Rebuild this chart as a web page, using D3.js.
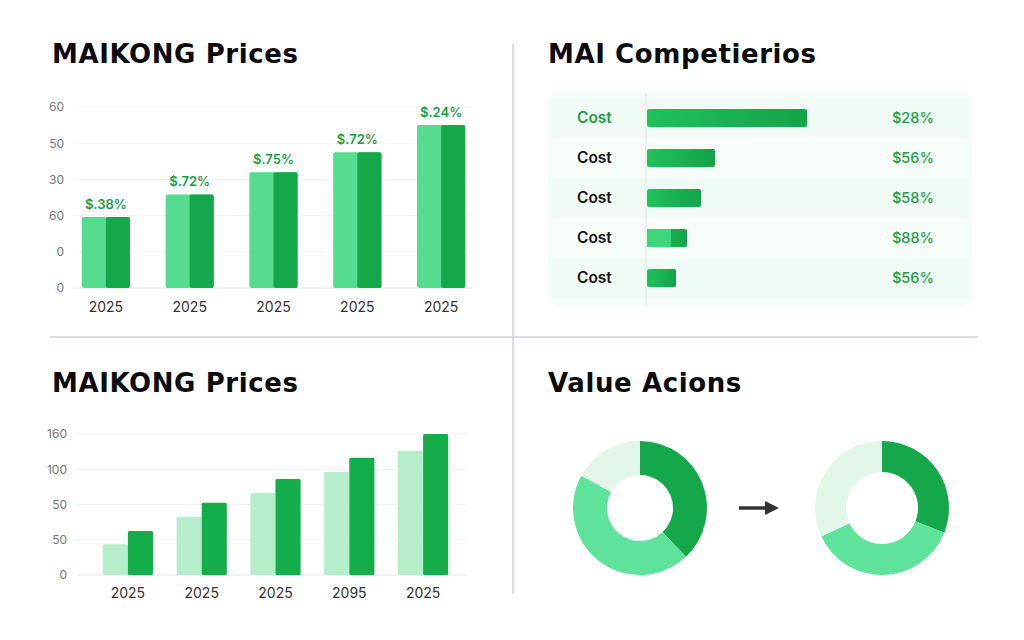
<!DOCTYPE html>
<html>
<head>
<meta charset="utf-8">
<script src="https://cdn.jsdelivr.net/npm/d3@7"></script>
<style>
  body { margin: 0; background: #fff; }
  svg { display: block; font-family: "Inter", "Open Sans", sans-serif; }
</style>
</head>
<body>
<svg id="chart" width="1024" height="640"></svg>
<script>
// ---- data ----
const topYears = ["2025", "2025", "2025", "2025", "2025"];
const topValues = [23.5, 31, 38.4, 45, 54];
const topLabels = ["$.38%", "$.72%", "$.75%", "$.72%", "$.24%"];
const topTickValues = [0, 12, 24, 36, 48, 60];
const topTickLabels = ["0", "0", "60", "30", "50", "60"];

const compNames = ["Cost", "Cost", "Cost", "Cost", "Cost"];
const compValues = [80, 34, 27, 20, 14.5];
const compLabels = ["$28%", "$56%", "$58%", "$88%", "$56%"];

const botYears = ["2025", "2025", "2025", "2095", "2025"];
const botLight = [35, 66, 93, 117, 141];
const botDark = [50, 82, 109, 133, 160];
const botTickValues = [0, 40, 80, 120, 160];
const botTickLabels = ["0", "50", "50", "100", "160"];

const donutBefore = [38, 45, 17];
const donutAfter = [31, 37, 32];
const donutColors = ["#14a84a", "#5fe39b", "#e2f6ea"];

const svg = d3.select("#chart");
const GREEN_DARK = "#15a84b";
const GREEN_LIGHT = "#55dc8e";
const TEXT_GREEN = "#1a9e48";

// ---- dividers ----
svg.append("line").attr("x1", 513).attr("x2", 513).attr("y1", 44).attr("y2", 594)
  .attr("stroke", "#cfd3d6").attr("stroke-width", 1.5);
svg.append("line").attr("x1", 50).attr("x2", 978).attr("y1", 337).attr("y2", 337)
  .attr("stroke", "#cfd3d6").attr("stroke-width", 1.5);

// ---- titles ----
function title(x, y, txt) {
  svg.append("text").attr("x", x).attr("y", y).text(txt)
    .attr("font-family", "'DejaVu Sans', sans-serif")
    .attr("font-size", 26).attr("font-weight", 700).attr("fill", "#0b0b0b")
    .attr("letter-spacing", 0.6);
}
title(52, 63, "MAIKONG Prices");
title(548, 63, "MAI Competierios");
title(52, 392, "MAIKONG Prices");
title(548, 392, "Value Acions");

// ==================================
// PANEL 1: two-tone bars
// ==================================
const x1 = d3.scaleBand().domain(d3.range(topValues.length)).range([65, 482]).paddingInner(0.425).paddingOuter(0.2);
const y1 = d3.scaleLinear().domain([0, 60]).range([288, 107]);

const g1 = svg.append("g");
g1.selectAll("line.grid").data(topTickValues).enter().append("line")
  .attr("x1", 73).attr("x2", 472)
  .attr("y1", d => y1(d)).attr("y2", d => y1(d))
  .attr("stroke", d => d === 0 ? "#e2e4e6" : "#f1f2f3").attr("stroke-width", 1);
g1.append("g").attr("transform", "translate(64,0)")
  .call(d3.axisLeft(y1).tickValues(topTickValues).tickFormat((d, i) => topTickLabels[i]).tickSize(0).tickPadding(0))
  .call(g => g.select(".domain").remove())
  .selectAll("text").attr("font-size", 12).attr("fill", "#777").attr("font-family", "Inter, sans-serif");

const bars1 = g1.selectAll("g.bar").data(topValues).enter().append("g");
bars1.append("rect")
  .attr("x", (d, i) => x1(i)).attr("width", x1.bandwidth())
  .attr("y", d => y1(d)).attr("height", d => y1(0) - y1(d))
  .attr("fill", GREEN_LIGHT).attr("rx", 2);
bars1.append("rect")
  .attr("x", (d, i) => x1(i) + x1.bandwidth() / 2).attr("width", x1.bandwidth() / 2)
  .attr("y", d => y1(d)).attr("height", d => y1(0) - y1(d))
  .attr("fill", GREEN_DARK).attr("rx", 2);
bars1.append("text")
  .attr("x", (d, i) => x1(i) + x1.bandwidth() / 2).attr("y", d => y1(d) - 8)
  .attr("text-anchor", "middle").attr("font-size", 13).attr("font-weight", 600)
  .attr("fill", TEXT_GREEN).text((d, i) => topLabels[i]);
g1.selectAll("text.year").data(topYears).enter().append("text")
  .attr("x", (d, i) => x1(i) + x1.bandwidth() / 2).attr("y", 312)
  .attr("text-anchor", "middle").attr("font-size", 14).attr("fill", "#333").text(d => d);

// ==================================
// PANEL 2: competitor bars
// ==================================
const g2 = svg.append("g");
const defs = svg.append("defs");
const grad = defs.append("linearGradient").attr("id", "barGrad");
grad.append("stop").attr("offset", "0%").attr("stop-color", "#1fc25c");
grad.append("stop").attr("offset", "100%").attr("stop-color", "#13a349");

g2.append("rect").attr("x", 548).attr("y", 92).attr("width", 424).attr("height", 214)
  .attr("rx", 10).attr("fill", "#f3fcf6");
const yRow = d3.scaleBand().domain(d3.range(compValues.length)).range([98, 298]);
g2.selectAll("rect.stripe").data(compValues).enter().append("rect")
  .attr("x", 552).attr("width", 416)
  .attr("y", (d, i) => yRow(i)).attr("height", yRow.bandwidth())
  .attr("fill", (d, i) => i % 2 === 0 ? "#f1fbf5" : "#f6fdf9");
g2.append("line").attr("x1", 646).attr("x2", 646).attr("y1", 93).attr("y2", 305)
  .attr("stroke", "#dde5e0").attr("stroke-width", 1);
const xComp = d3.scaleLinear().domain([0, 100]).range([647, 847]);
g2.selectAll("rect.cbar").data(compValues).enter().append("rect")
  .attr("x", xComp(0)).attr("width", d => xComp(d) - xComp(0))
  .attr("y", (d, i) => yRow(i) + yRow.bandwidth() / 2 - 9).attr("height", 18)
  .attr("rx", 2).attr("fill", "url(#barGrad)");
// lighter start on the fourth bar
g2.append("rect").attr("x", xComp(0)).attr("width", 24)
  .attr("y", yRow(3) + yRow.bandwidth() / 2 - 9).attr("height", 18)
  .attr("fill", "#3dd67b");
g2.selectAll("text.cname").data(compNames).enter().append("text")
  .attr("x", 577).attr("y", (d, i) => yRow(i) + yRow.bandwidth() / 2 + 5)
  .attr("font-size", 15.5).attr("font-weight", 600)
  .attr("fill", (d, i) => i === 0 ? TEXT_GREEN : "#151515").text(d => d);
g2.selectAll("text.cval").data(compLabels).enter().append("text")
  .attr("x", 892).attr("y", (d, i) => yRow(i) + yRow.bandwidth() / 2 + 5)
  .attr("font-size", 14.5).attr("font-weight", 500)
  .attr("fill", TEXT_GREEN).text(d => d);

// ==================================
// PANEL 3: grouped bars
// ==================================
const g3 = svg.append("g");
const x3 = d3.scaleBand().domain(d3.range(botLight.length)).range([91, 460]).paddingInner(0.32).paddingOuter(0.16);
const y3 = d3.scaleLinear().domain([0, 160]).range([575, 434]);
g3.selectAll("line.grid").data(botTickValues).enter().append("line")
  .attr("x1", 77).attr("x2", 467)
  .attr("y1", d => y3(d)).attr("y2", d => y3(d))
  .attr("stroke", d => d === 0 ? "#e2e4e6" : "#f1f2f3");
g3.append("g").attr("transform", "translate(67,0)")
  .call(d3.axisLeft(y3).tickValues(botTickValues).tickFormat((d, i) => botTickLabels[i]).tickSize(0).tickPadding(0))
  .call(g => g.select(".domain").remove())
  .selectAll("text").attr("font-size", 12).attr("fill", "#777").attr("font-family", "Inter, sans-serif");
const half = x3.bandwidth() / 2;
g3.selectAll("rect.light").data(botLight).enter().append("rect")
  .attr("x", (d, i) => x3(i)).attr("width", half)
  .attr("y", d => y3(d)).attr("height", d => y3(0) - y3(d))
  .attr("fill", "#b6edca").attr("rx", 1.5);
g3.selectAll("rect.dark").data(botDark).enter().append("rect")
  .attr("x", (d, i) => x3(i) + half).attr("width", half)
  .attr("y", d => y3(d)).attr("height", d => y3(0) - y3(d))
  .attr("fill", "#13ae4a").attr("rx", 1.5);
g3.selectAll("text.year").data(botYears).enter().append("text")
  .attr("x", (d, i) => x3(i) + x3.bandwidth() / 2).attr("y", 598)
  .attr("text-anchor", "middle").attr("font-size", 14).attr("fill", "#333").text(d => d);

// ==================================
// PANEL 4: donuts
// ==================================
const pie = d3.pie().sort(null).value(d => d);
function donut(cx, cy, vals, inner) {
  const arc = d3.arc().innerRadius(inner).outerRadius(67);
  svg.append("g").attr("transform", `translate(${cx},${cy})`)
    .selectAll("path").data(pie(vals)).enter().append("path")
    .attr("d", arc).attr("fill", (d, i) => donutColors[i]);
}
donut(640, 508, donutBefore, 33);
donut(882, 508, donutAfter, 36);

defs.append("marker").attr("id", "arrow").attr("viewBox", "0 0 10 10")
  .attr("refX", 5).attr("refY", 5).attr("markerWidth", 4).attr("markerHeight", 4)
  .attr("orient", "auto")
  .append("path").attr("d", "M0,0 L10,5 L0,10 Z").attr("fill", "#333");
svg.append("line").attr("x1", 739).attr("x2", 772).attr("y1", 508).attr("y2", 508)
  .attr("stroke", "#333").attr("stroke-width", 3.5).attr("marker-end", "url(#arrow)");
</script>
</body>
</html>
